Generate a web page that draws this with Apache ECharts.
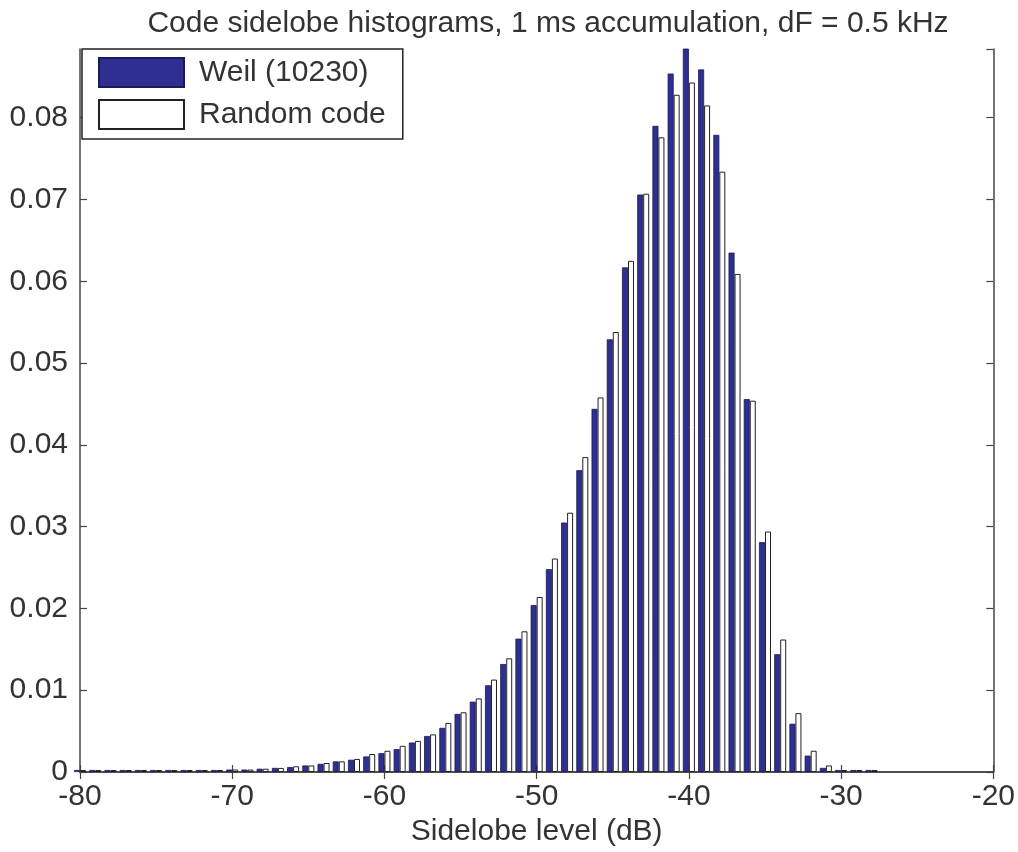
<!DOCTYPE html>
<html>
<head>
<meta charset="utf-8">
<title>Code sidelobe histograms</title>
<script src="https://cdn.jsdelivr.net/npm/echarts@6/dist/echarts.min.js"></script>
<style>
  html, body { margin: 0; padding: 0; background: #fff; }
  #chart { width: 1018px; height: 852px; }
</style>
</head>
<body>
<div id="chart"></div>
<script>
// sidelobe level bins (dB), 1 dB wide
var levels = [-80, -79, -78, -77, -76, -75, -74, -73, -72, -71,
              -70, -69, -68, -67, -66, -65, -64, -63, -62, -61,
              -60, -59, -58, -57, -56, -55, -54, -53, -52, -51,
              -50, -49, -48, -47, -46, -45, -44, -43, -42, -41,
              -40, -39, -38, -37, -36, -35, -34, -33, -32, -31,
              -30, -29, -28];

// Weil (10230) histogram
var weil = [0.0001, 0.0001, 0.0001, 0.0001, 0.0001, 0.0001, 0.0001, 0.0001, 0.0001, 0.0002,
            0.0003, 0.0003, 0.0004, 0.0005, 0.0006, 0.0008, 0.0010, 0.0013, 0.0015, 0.0019,
            0.0023, 0.0028, 0.0036, 0.0044, 0.0054, 0.0071, 0.0086, 0.0106, 0.0132, 0.0163,
            0.0204, 0.0248, 0.0305, 0.0369, 0.0444, 0.0529, 0.0617, 0.0706, 0.0790, 0.0854,
            0.0890, 0.0859, 0.0779, 0.0635, 0.0456, 0.0281, 0.0144, 0.0059, 0.0020, 0.0005,
            0.0002, 0.0001, 0.0001];

// Random code histogram
var randomCode = [0.0001, 0.0001, 0.0001, 0.0001, 0.0001, 0.0001, 0.0001, 0.0001, 0.0001, 0.0002,
                  0.0003, 0.0003, 0.0004, 0.0005, 0.0007, 0.0008, 0.0011, 0.0013, 0.0016, 0.0022,
                  0.0026, 0.0032, 0.0038, 0.0046, 0.0060, 0.0073, 0.0090, 0.0113, 0.0139, 0.0172,
                  0.0214, 0.0261, 0.0317, 0.0385, 0.0458, 0.0538, 0.0625, 0.0707, 0.0776, 0.0828,
                  0.0843, 0.0815, 0.0734, 0.0609, 0.0454, 0.0294, 0.0162, 0.0072, 0.0026, 0.0008,
                  0.0002, 0.0002, 0.0001];

var seriesNames = ['Weil (10230)', 'Random code'];

var font = "'Liberation Sans', Arial, Helvetica, sans-serif";
var textColor = '#333';
var lineColor = '#444';

function pairs(values) {
  return levels.map(function (x, i) { return [x, values[i]]; });
}

var chart = echarts.init(document.getElementById('chart'));

var axisBase = {
  axisLine: { show: true, lineStyle: { color: lineColor, width: 1.5 } },
  axisTick: { show: true, inside: true, length: 7, lineStyle: { color: lineColor, width: 1.2 } },
  splitLine: { show: false }
};

chart.setOption({
  backgroundColor: '#fff',
  animation: false,
  title: {
    text: 'Code sidelobe histograms, 1 ms accumulation, dF = 0.5 kHz',
    left: 543,
    top: 4,
    textAlign: 'center',
    textStyle: { fontFamily: font, fontSize: 30, fontWeight: 'normal', color: textColor }
  },
  legend: {
    data: seriesNames,
    orient: 'vertical',
    left: 82,
    top: 49,
    padding: [8, 17, 9, 16],
    itemWidth: 85,
    itemHeight: 29,
    itemGap: 11,
    icon: 'rect',
    selectedMode: false,
    backgroundColor: '#fff',
    borderColor: '#222',
    borderWidth: 1.5,
    textStyle: { fontFamily: font, fontSize: 30, color: textColor, padding: [0, 0, 0, 10] }
  },
  grid: { left: 80, right: 20, top: 49, bottom: 79 },
  xAxis: [
    Object.assign({}, axisBase, {
      type: 'value',
      min: -80,
      max: -20,
      interval: 10,
      name: 'Sidelobe level (dB)',
      nameLocation: 'middle',
      nameGap: 45,
      nameTextStyle: { fontFamily: font, fontSize: 30, color: textColor },
      axisLabel: { margin: 10, fontFamily: font, fontSize: 30, color: textColor }
    }),
    Object.assign({}, axisBase, {
      type: 'value',
      position: 'top',
      min: -80,
      max: -20,
      interval: 10,
      axisLabel: { show: false }
    })
  ],
  yAxis: [
    Object.assign({}, axisBase, {
      type: 'value',
      min: 0,
      max: 0.0884,
      interval: 0.01,
      axisLabel: { margin: 12, showMaxLabel: false, fontFamily: font, fontSize: 30, color: textColor }
    }),
    Object.assign({}, axisBase, {
      type: 'value',
      position: 'right',
      min: 0,
      max: 0.0884,
      interval: 0.01,
      axisLabel: { show: false }
    })
  ],
  series: [
    {
      name: seriesNames[0],
      type: 'bar',
      barWidth: 6,
      barGap: '0%',
      barMinHeight: 2,
      clip: true,
      itemStyle: { color: '#2e2f90', borderColor: '#1a1a55', borderWidth: 0.8 },
      data: pairs(weil)
    },
    {
      name: seriesNames[1],
      type: 'bar',
      barWidth: 6,
      barGap: '0%',
      barMinHeight: 2,
      clip: true,
      itemStyle: { color: '#fff', borderColor: '#222', borderWidth: 1 },
      data: pairs(randomCode)
    }
  ]
});
</script>
</body>
</html>
